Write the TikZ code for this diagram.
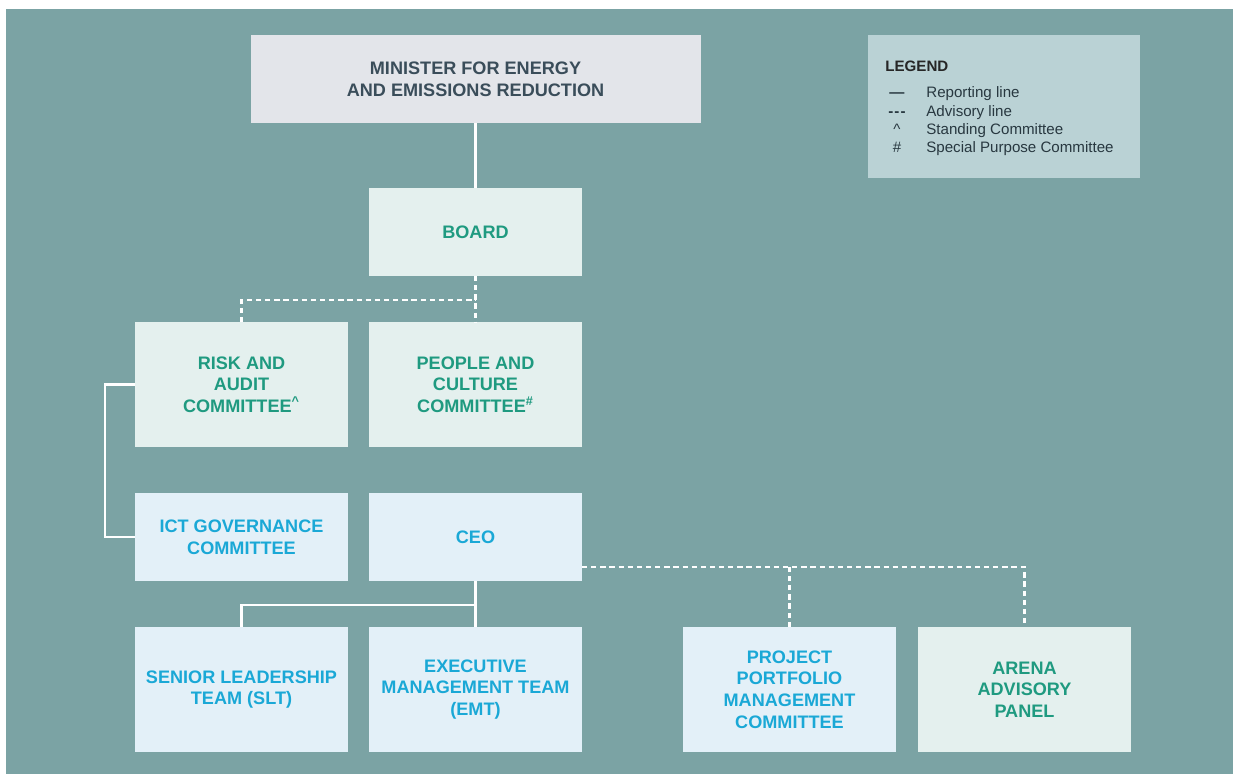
\documentclass[tikz,border=0pt]{standalone}
\usepackage{fontspec}
\setmainfont{Liberation Sans}
\usetikzlibrary{positioning}

\definecolor{bgteal}{RGB}{123,163,164}
\definecolor{ministerfill}{RGB}{227,229,234}
\definecolor{ministertext}{RGB}{58,77,90}
\definecolor{mintfill}{RGB}{228,240,238}
\definecolor{mintgreen}{RGB}{31,154,128}
\definecolor{bluefill}{RGB}{227,240,248}
\definecolor{cyantext}{RGB}{26,168,214}
\definecolor{legendfill}{RGB}{186,210,213}
\definecolor{legendtext}{RGB}{40,56,64}

\begin{document}
\begin{tikzpicture}[
    node distance=0.92cm and 0.42cm,
    box/.style={rectangle, inner sep=0pt, outer sep=0pt, align=center, minimum width=4.26cm, minimum height=1.76cm, font=\fontsize{10.3}{12.3}\selectfont\bfseries},
    tall/.style={minimum height=2.5cm},
    topbox/.style={box, fill=ministerfill, text=ministertext, minimum width=9cm},
    mintbox/.style={box, fill=mintfill, text=mintgreen},
    bluebox/.style={box, fill=bluefill, text=cyantext},
    repline/.style={draw=white, line width=1.2pt},
    advline/.style={repline, dash pattern=on 3pt off 2.2pt},
    legendbox/.style={rectangle, fill=legendfill, inner sep=0pt, minimum width=5.44cm, minimum height=2.86cm},
    legtext/.style={font=\fontsize{8.6}{10}\selectfont, text=legendtext, inner sep=0pt},
]

% Page and background panel
\useasboundingbox (0,0) rectangle (24.76,-15.48);
\fill[white] (0,0) rectangle (24.76,-15.48);
\fill[bgteal] (0.12,-0.18) rectangle (24.66,-15.48);

% Minister and board
\node[topbox] (minister) at (9.51,-1.58) {MINISTER FOR ENERGY\\AND EMISSIONS REDUCTION};
\node[mintbox, below=1.3cm of minister] (board) {BOARD};

% Board committees
\node[mintbox, tall, below=of board] (pac) {PEOPLE AND\\CULTURE\\COMMITTEE\textsuperscript{\#}};
\node[mintbox, tall, left=of pac] (rac) {RISK AND\\AUDIT\\COMMITTEE\textsuperscript{\textasciicircum}};

% CEO level
\node[bluebox, below=of pac] (ceo) {CEO};
\node[bluebox, left=of ceo] (ict) {ICT GOVERNANCE\\COMMITTEE};

% Teams and committees under the CEO
\node[bluebox, tall, below=of ceo] (emt) {EXECUTIVE\\MANAGEMENT TEAM\\(EMT)};
\node[bluebox, tall, left=of emt] (slt) {SENIOR LEADERSHIP\\TEAM (SLT)};
\node[bluebox, tall, right=2.02cm of emt] (ppmc) {PROJECT\\PORTFOLIO\\MANAGEMENT\\COMMITTEE};
\node[mintbox, tall, right=0.44cm of ppmc] (arena) {ARENA\\ADVISORY\\PANEL};

% Junctions
\coordinate (boardsplit) at ([yshift=-0.48cm]board.south);
\coordinate (ceosplit) at ([yshift=-0.48cm]ceo.south);
\coordinate (ceoadv) at ([yshift=-0.6cm]ceo.east);

% Reporting lines
\draw[repline] (minister) -- (board);
\draw[repline] (ict.west) -- ++(-0.6,0) |- (rac.west);
\draw[repline] (ceo) -- (emt);
\draw[repline] (slt.north) |- (ceosplit);

% Advisory lines
\draw[advline] (board) -- (pac);
\draw[advline] (rac.north) |- (boardsplit);
\draw[advline] (ceoadv) -| (arena.north);
\draw[advline] (ppmc.north) -- (ppmc.north |- ceoadv);

% Legend
\node[legendbox] (legend) at (20.08,-2.13) {};
\node[legtext, font=\fontsize{8.6}{10}\selectfont\bfseries, text=black!85, anchor=base west] (legtitle) at (17.7,-1.43) {LEGEND};
\node[legtext, font=\fontsize{8.6}{10}\selectfont\bfseries, anchor=base] (sym1) at (17.94,-1.96) {---};
\node[legtext, font=\fontsize{8.6}{10}\selectfont\bfseries, anchor=base] (sym2) at (17.94,-2.33) {-\kern0.6pt-\kern0.6pt-};
\node[legtext, anchor=base] (sym3) at (17.94,-2.70) {\textasciicircum};
\node[legtext, anchor=base] (sym4) at (17.94,-3.06) {\#};
\node[legtext, anchor=base west] (item1) at (18.52,-1.96) {Reporting line};
\node[legtext, anchor=base west] (item2) at (18.52,-2.33) {Advisory line};
\node[legtext, anchor=base west] (item3) at (18.52,-2.70) {Standing Committee};
\node[legtext, anchor=base west] (item4) at (18.52,-3.06) {Special Purpose Committee};

\end{tikzpicture}
\end{document}
